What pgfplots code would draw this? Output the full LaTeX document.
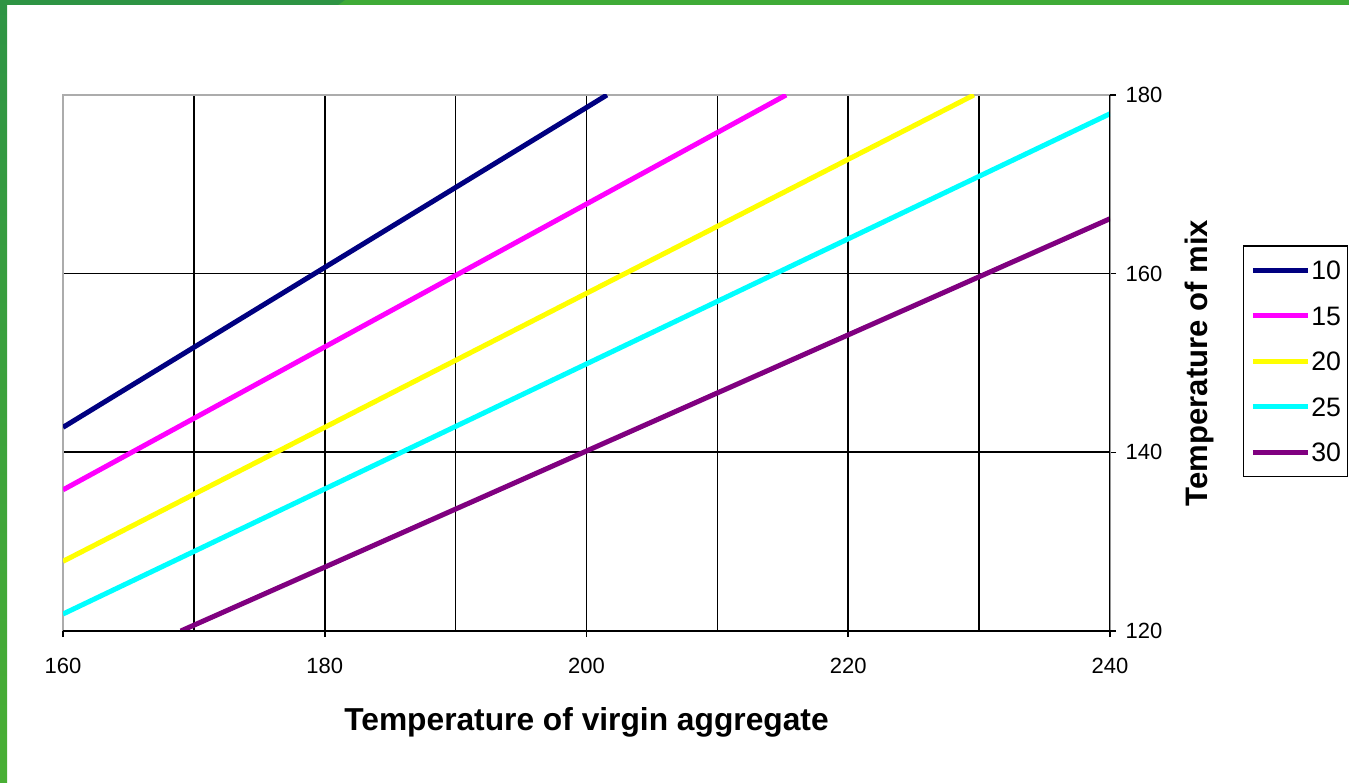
\documentclass[border=0pt]{standalone}
\usepackage{fontspec}
\setmainfont{Liberation Sans}
\usepackage{pgfplots}
\pgfplotsset{compat=1.18}
\definecolor{gdark}{HTML}{2E9444}
\definecolor{glight}{HTML}{3FAB37}
\definecolor{s10}{HTML}{000080}
\definecolor{s15}{HTML}{FF00FF}
\definecolor{s20}{HTML}{FFFF00}
\definecolor{s25}{HTML}{00FFFF}
\definecolor{s30}{HTML}{800080}
\begin{document}
\begin{tikzpicture}[x=0.75pt,y=0.75pt]
% page frame in pixels
\path[use as bounding box] (0,0) rectangle (1349,782);
\fill[top color=gdark, bottom color=glight!95!yellow] (0,0) rectangle (7,782);
\fill[glight] (0,777) rectangle (1349,782);
\fill[gdark] (0,777) -- (338,777) -- (345,782) -- (0,782) -- cycle;

\begin{axis}[
    at={(47.25pt,113.25pt)}, anchor=south west,
    scale only axis,
    width=785.25pt, height=402pt,
    xmin=160, xmax=240, ymin=120, ymax=180,
    xtick={180,200,220}, minor xtick={170,190,210,230},
    extra x ticks={160,240}, extra x tick style={grid=none},
    ytick={140,160}, extra y ticks={120,180}, extra y tick style={grid=none},
    xtick pos=bottom, ytick pos=right, yticklabel pos=right,
    grid=both,
    major grid style={black, line width=1.25pt},
    minor grid style={black, line width=1.25pt},
    tick align=outside,
    major tick length=4.5pt, minor tick length=0pt,
    tick style={black, line width=1.2pt},
    axis line style={draw=gray!65, line width=1.5pt},
    /pgf/number format/assume math mode=true,
    ticklabel style={font=\fontsize{16.5}{19}\selectfont, inner sep=0pt},
    xticklabel style={anchor=base, yshift=-27pt},
    yticklabel style={anchor=west, xshift=7pt},
    xlabel={\bfseries Temperature of virgin aggregate},
    ylabel={\bfseries Temperature of mix},
    every axis x label/.style={at={(rel axis cs:0.5,0)}, anchor=base,
        yshift=-74.25pt, inner sep=0pt, font=\fontsize{23.8}{27}\selectfont},
    every axis y label/.style={at={([xshift=72.75pt]rel axis cs:1,0.5)}, rotate=90, anchor=base,
        inner sep=0pt, font=\fontsize{23.3}{27}\selectfont},
    legend style={at={(1.127,0.720)}, anchor=north west,
        draw=black, line width=1.1pt,
        font=\fontsize{20}{23}\selectfont,
        inner xsep=5pt, inner ysep=11pt,
        row sep=19.9pt, column sep=1pt,
        nodes={inner sep=0pt, text height=14.3pt, text depth=0pt}},
    legend cell align=left,
    legend image code/.code={\draw[#1, line width=3.75pt] (0pt,0pt) -- (41pt,0pt);},
    every axis plot/.append style={line width=3.75pt},
]
\addplot[s10] coordinates {
  (160,142.8) (170,151.75) (180,160.7) (190,169.65) (200,178.6) (201.56,180)
};
\addlegendentry{10}
\addplot[s15] coordinates {
  (160,135.8) (170,143.8) (180,151.8) (190,159.8) (200,167.8) (210,175.8) (215.25,180)
};
\addlegendentry{15}
\addplot[s20] coordinates {
  (160,127.8) (170,135.3) (180,142.8) (190,150.3) (200,157.8) (210,165.3) (220,172.8) (229.6,180)
};
\addlegendentry{20}
\addplot[s25] coordinates {
  (160,121.9) (170,128.9) (180,135.9) (190,142.9) (200,149.9) (210,156.9) (220,163.9) (230,170.9) (240,177.9)
};
\addlegendentry{25}
\addplot[s30] coordinates {
  (169,120) (170,120.65) (180,127.15) (190,133.65) (200,140.15) (210,146.65) (220,153.15) (230,159.65) (240,166.15)
};
\addlegendentry{30}
% black axis lines at bottom and right, as in the reference
\draw[black, line width=1.2pt] (rel axis cs:0,0) -- (rel axis cs:1,0) -- (rel axis cs:1,1);
\end{axis}
\end{tikzpicture}
\end{document}
